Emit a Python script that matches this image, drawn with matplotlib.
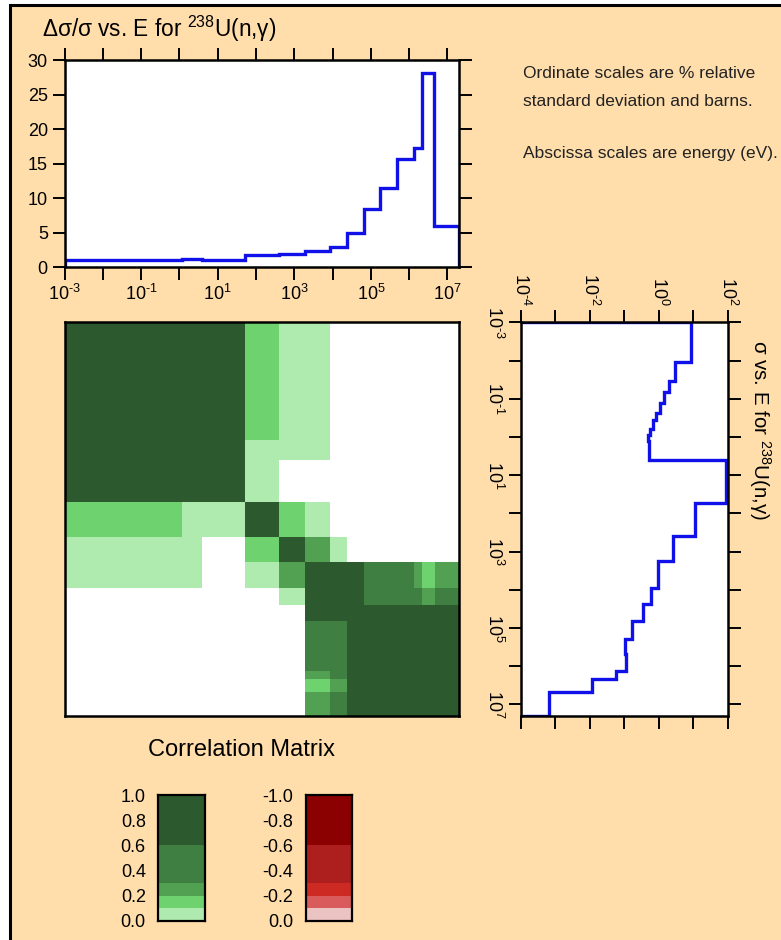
import numpy as np
import matplotlib
matplotlib.use('Agg')
import matplotlib.pyplot as plt
from matplotlib.colors import ListedColormap, BoundaryNorm
from matplotlib.ticker import LogLocator, NullLocator, FuncFormatter, MultipleLocator, FixedLocator
from matplotlib.patches import Rectangle

plt.rcParams['font.family'] = ['Liberation Sans', 'DejaVu Sans']
plt.rcParams['mathtext.fontset'] = 'custom'
plt.rcParams['mathtext.rm'] = 'Liberation Sans'
plt.rcParams['mathtext.it'] = 'Liberation Sans:italic'
plt.rcParams['mathtext.bf'] = 'Liberation Sans:bold'
plt.rcParams['axes.unicode_minus'] = False

# ---------------- data ----------------
# relative standard deviation (%) vs energy (eV)
unc_edges = [1e-3, 1.2, 4.0, 52, 400, 1.85e3, 8.8e3, 2.45e4, 6.6e4, 1.75e5,
             4.85e5, 1.35e6, 2.2e6, 4.5e6, 2.0e7]
unc_pct = [1.0, 1.15, 1.05, 1.75, 1.9, 2.35, 3.0, 4.9, 8.45, 11.45,
           15.7, 17.25, 28.1, 6.0]

# cross section (barns) vs energy (eV)
xs_edges = [1e-3, 0.0107, 0.034, 0.065, 0.13, 0.23, 0.36, 0.62, 0.88, 1.3,
            4.0, 52, 400, 1.8e3, 8.9e3, 2.4e4, 6.6e4, 1.9e5, 4.9e5, 1.33e6,
            2.1e6, 4.8e6, 2.0e7]
xs_barns = [8.5, 2.97, 2.0, 1.44, 1.1, 0.85, 0.67, 0.56, 0.49, 0.54,
            89.0, 11.3, 2.6, 0.96, 0.60, 0.36, 0.166, 0.105, 0.115, 0.058,
            0.012, 6.8e-4]

# correlation matrix groups
corr_edges = [1e-3, 1.2, 4.0, 52, 410, 1.85e3, 8.8e3, 2.45e4, 6.6e4, 1.75e5,
              4.9e5, 1.35e6, 2.2e6, 4.8e6, 2.0e7]
corr = [
    [1.00, 0.90, 0.90, 0.15, 0.05, 0.05, 0.00, 0.00, 0.00, 0.00, 0.00, 0.00, 0.00, 0.00],
    [0.90, 1.00, 0.90, 0.05, 0.05, 0.05, 0.00, 0.00, 0.00, 0.00, 0.00, 0.00, 0.00, 0.00],
    [0.90, 0.90, 1.00, 0.05, 0.00, 0.00, 0.00, 0.00, 0.00, 0.00, 0.00, 0.00, 0.00, 0.00],
    [0.15, 0.05, 0.05, 1.00, 0.15, 0.05, 0.00, 0.00, 0.00, 0.00, 0.00, 0.00, 0.00, 0.00],
    [0.05, 0.05, 0.00, 0.15, 1.00, 0.25, 0.05, 0.00, 0.00, 0.00, 0.00, 0.00, 0.00, 0.00],
    [0.05, 0.05, 0.00, 0.05, 0.25, 1.00, 0.90, 0.90, 0.45, 0.45, 0.45, 0.25, 0.15, 0.25],
    [0.00, 0.00, 0.00, 0.00, 0.05, 0.90, 1.00, 0.90, 0.45, 0.45, 0.45, 0.45, 0.25, 0.45],
    [0.00, 0.00, 0.00, 0.00, 0.00, 0.90, 0.90, 1.00, 0.90, 0.90, 0.90, 0.90, 0.90, 0.90],
    [0.00, 0.00, 0.00, 0.00, 0.00, 0.45, 0.45, 0.90, 1.00, 0.90, 0.90, 0.90, 0.90, 0.90],
    [0.00, 0.00, 0.00, 0.00, 0.00, 0.45, 0.45, 0.90, 0.90, 1.00, 0.90, 0.90, 0.90, 0.90],
    [0.00, 0.00, 0.00, 0.00, 0.00, 0.45, 0.45, 0.90, 0.90, 0.90, 1.00, 0.90, 0.90, 0.90],
    [0.00, 0.00, 0.00, 0.00, 0.00, 0.25, 0.45, 0.90, 0.90, 0.90, 0.90, 1.00, 0.90, 0.90],
    [0.00, 0.00, 0.00, 0.00, 0.00, 0.15, 0.25, 0.90, 0.90, 0.90, 0.90, 0.90, 1.00, 0.90],
    [0.00, 0.00, 0.00, 0.00, 0.00, 0.25, 0.45, 0.90, 0.90, 0.90, 0.90, 0.90, 0.90, 1.00],
]

band_levels = [0.0, 0.1, 0.2, 0.3, 0.6, 1.0]
green_colors = ['#afeaaf', '#6ed36e', '#52a052', '#3f7f42', '#2c5a2e']
red_colors = ['#ebc3c3', '#d95b5b', '#cc2a22', '#ad1f1f', '#8b0000']
cbar_ticks = [0.0, 0.2, 0.4, 0.6, 0.8, 1.0]

title_top = 'Δσ/σ vs. E for $\\mathregular{^{238}}$U(n,γ)'
title_right = 'σ vs. E for $\\mathregular{^{238}}$U(n,γ)'
note_lines = ['Ordinate scales are % relative',
              'standard deviation and barns.',
              'Abscissa scales are energy (eV).']
matrix_label = 'Correlation Matrix'

# ---------------- styling ----------------
W, H = 781, 940
PEACH = '#FFDEAB'
BLUE = '#1010e8'
TICK_FS = 13
fig = plt.figure(figsize=(W / 100, H / 100), dpi=100)
fig.patch.set_facecolor('white')
fig.add_artist(Rectangle((10 / W, -0.1), 1.2, 1.1 - 5 / H, transform=fig.transFigure,
                         facecolor=PEACH, edgecolor='black', lw=2.2, zorder=-10))


def ax_px(l, t, r, b):
    return fig.add_axes([l / W, 1 - b / H, (r - l) / W, (b - t) / H])


def dec_fmt(parity):
    def f(v, p):
        e = int(round(np.log10(v)))
        if e % 2 == parity:
            if e < 0:
                return r'$\mathregular{10^{\text{-}%d}}$' % (-e)
            return r'$\mathregular{10^{%d}}$' % e
        return ''
    return FuncFormatter(f)


def style_spines(ax):
    for s in ax.spines.values():
        s.set_linewidth(1.8)
        s.set_color('black')


# ---------------- top: uncertainty ----------------
ax1 = ax_px(64.5, 60, 459, 267.3)
ax1.set_facecolor('white')
ax1.stairs(unc_pct, unc_edges, baseline=0, color=BLUE, lw=2.4)
ax1.set_xscale('log')
ax1.set_xlim(1e-3, 2e7)
ax1.set_ylim(0, 30)
ax1.xaxis.set_major_locator(LogLocator(base=10, numticks=30))
ax1.xaxis.set_minor_locator(NullLocator())
ax1.xaxis.set_major_formatter(dec_fmt(1))
ax1.yaxis.set_major_locator(MultipleLocator(5))
ax1.tick_params(axis='both', which='major', direction='out', length=9, width=1.4,
                top=True, right=True, labelsize=TICK_FS, pad=3)
style_spines(ax1)
fig.text(42 / W, 1 - 37 / H, title_top, fontsize=16.3, ha='left', va='baseline')

# ---------------- note text ----------------
for txt, yb in zip(note_lines, [77.7, 105.7, 158.0]):
    fig.text(523 / W, 1 - yb / H, txt, fontsize=12.5, ha='left', va='baseline',
             color='#222222')

# ---------------- correlation matrix ----------------
axm = ax_px(64.5, 322, 459, 716)
all_bounds = [-1.0, -0.6, -0.3, -0.2, -0.1, -1e-6, 1e-6, 0.1, 0.2, 0.3, 0.6, 1.01]
cmap = ListedColormap(red_colors[::-1] + ['white'] + green_colors)
norm = BoundaryNorm(all_bounds, cmap.N)
axm.pcolormesh(corr_edges, corr_edges, np.array(corr), cmap=cmap, norm=norm,
               edgecolors='none')
axm.set_xscale('log')
axm.set_yscale('log')
axm.set_xlim(1e-3, 2e7)
axm.set_ylim(2e7, 1e-3)
axm.set_xticks([])
axm.set_yticks([])
axm.xaxis.set_minor_locator(NullLocator())
axm.yaxis.set_minor_locator(NullLocator())
style_spines(axm)
fig.text(241 / W, 1 - 756 / H, matrix_label, fontsize=17, ha='center', va='baseline')

# ---------------- right: cross section ----------------
axr = ax_px(520.7, 322.3, 727.7, 716)
axr.set_facecolor('white')
axr.stairs(xs_barns, xs_edges, orientation='horizontal', baseline=1e-6,
           color=BLUE, lw=2.4)
axr.set_xscale('log')
axr.set_yscale('log')
axr.set_xlim(1e-4, 1e2)
axr.set_ylim(2e7, 1e-3)
axr.xaxis.set_major_locator(LogLocator(base=10, numticks=30))
axr.xaxis.set_minor_locator(NullLocator())
axr.yaxis.set_major_locator(LogLocator(base=10, numticks=30))
axr.yaxis.set_minor_locator(NullLocator())
axr.xaxis.set_major_formatter(dec_fmt(0))
axr.yaxis.set_major_formatter(dec_fmt(1))
axr.tick_params(axis='both', which='major', direction='out', length=9, width=1.4,
                top=True, right=True, bottom=True, left=True, labelsize=TICK_FS)
axr.tick_params(axis='x', labeltop=True, labelbottom=False, labelrotation=-90, pad=3)
axr.tick_params(axis='y', labelrotation=-90, pad=3)
for lab in axr.get_yticklabels():
    lab.set_va('center')
style_spines(axr)
fig.text(760 / W, 1 - 430 / H, title_right, fontsize=14.8, rotation=-90,
         ha='center', va='center')

# ---------------- colour legends ----------------
lv = np.array(band_levels)


def cbar(l, r, colors, sign):
    ax = ax_px(l, 795, r, 920.7)
    ax.bar(0.5, sign * np.diff(lv), bottom=sign * lv[:-1], width=1.0,
           color=colors, edgecolor='none')
    ax.set_xlim(0, 1)
    ax.set_ylim(0, sign * 1.0)
    ax.set_xticks([])
    ax.yaxis.set_major_locator(FixedLocator([sign * t for t in cbar_ticks]))
    ax.yaxis.set_major_formatter(FuncFormatter(
        lambda v, p: '0.0' if abs(v) < 1e-9 else '%.1f' % v))
    ax.tick_params(axis='y', length=0, pad=9, labelsize=TICK_FS)
    for s in ax.spines.values():
        s.set_linewidth(1.6)
    return ax


cbar(158.3, 205, green_colors, 1)
cbar(305.7, 352.3, red_colors, -1)

fig.savefig('out.png', dpi=100, facecolor=fig.get_facecolor())
